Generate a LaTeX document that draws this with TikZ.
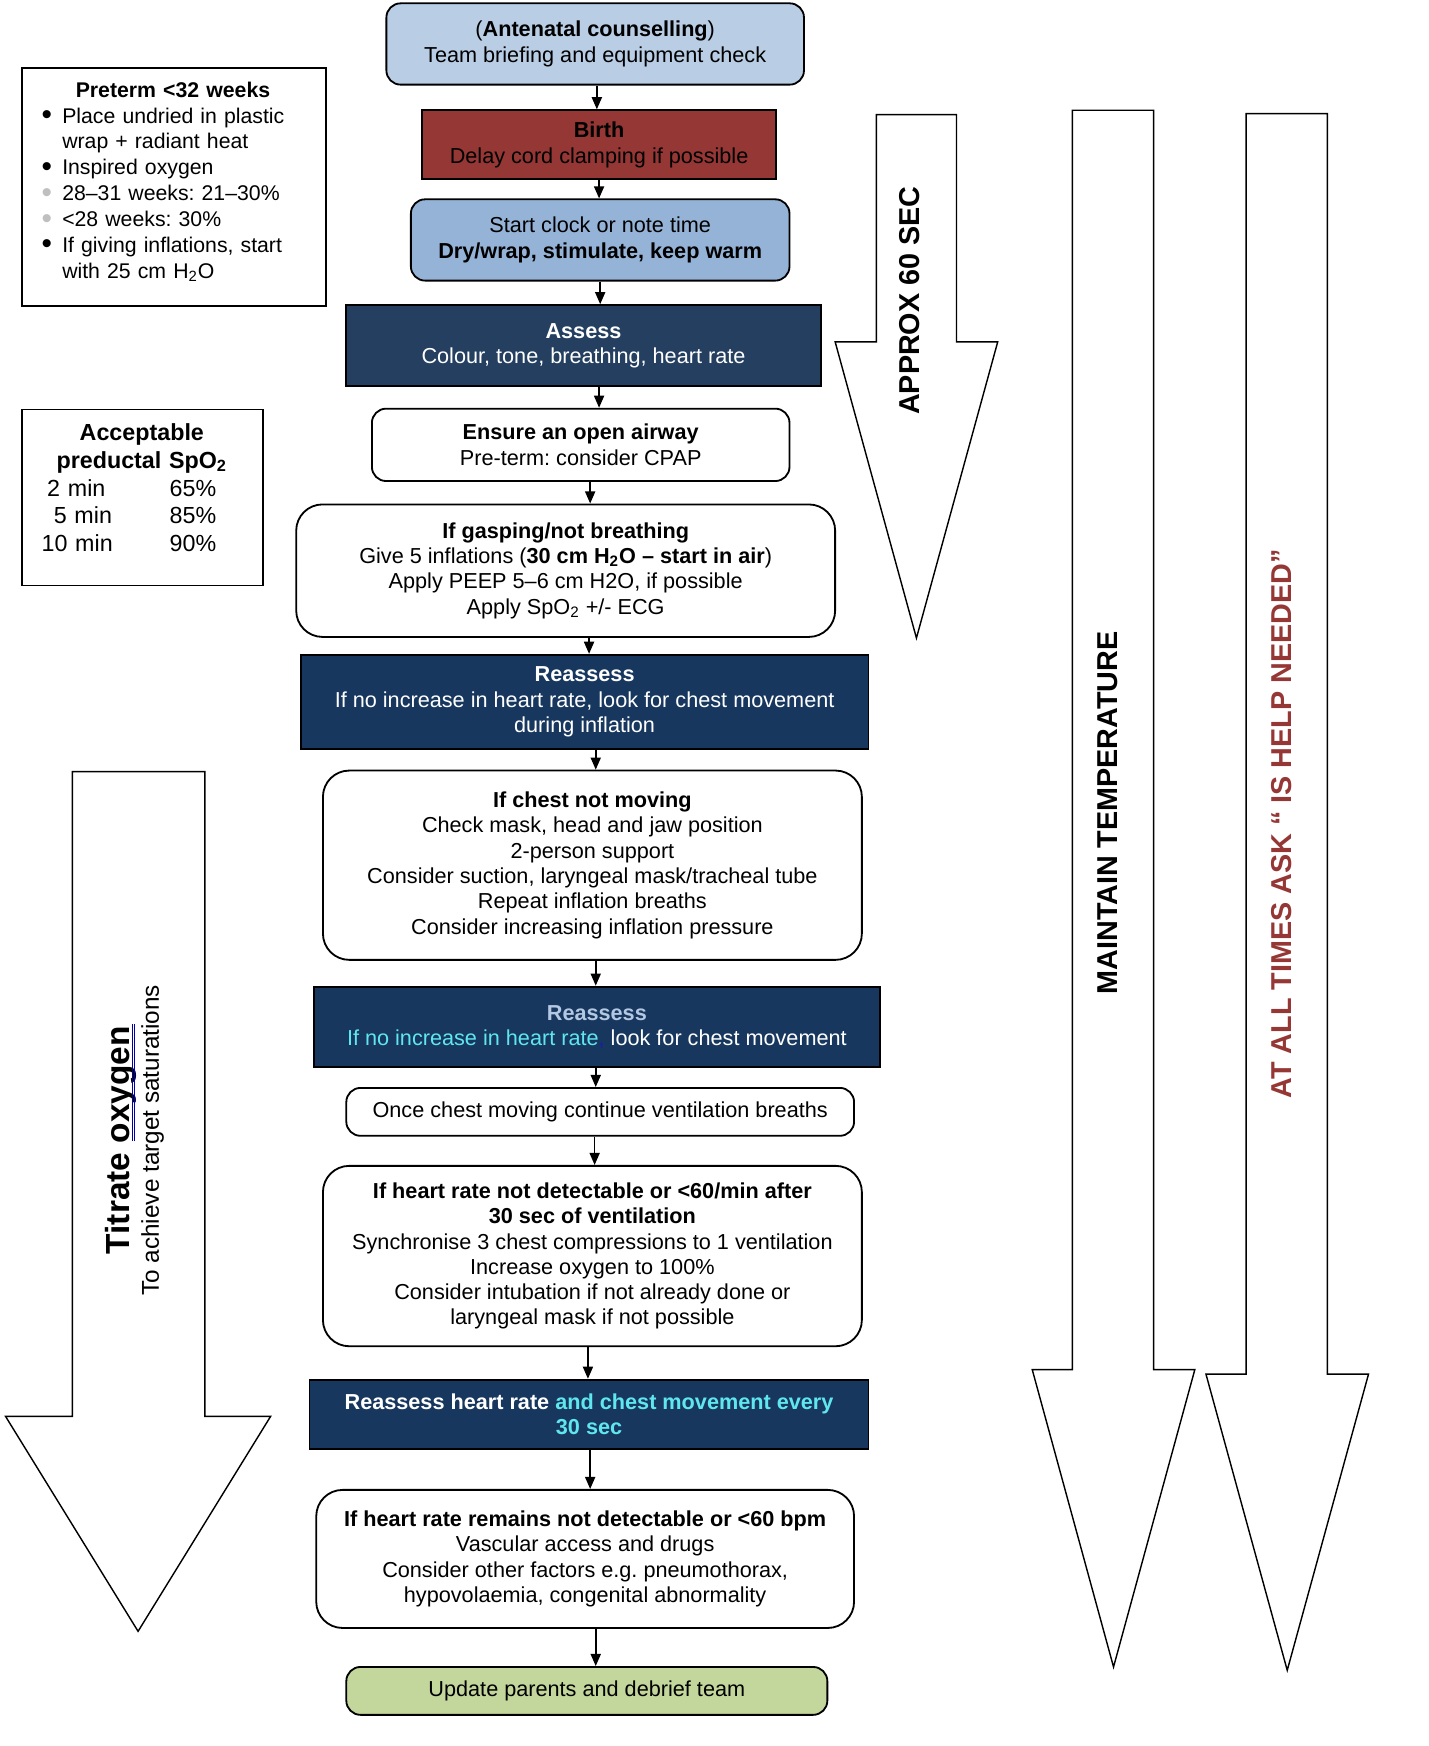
\documentclass[tikz,border=0pt]{standalone}
\usepackage{fontspec}
\setmainfont{Liberation Sans}
\usetikzlibrary{arrows.meta,calc}
\frenchspacing
\definecolor{nlsblue}{HTML}{B9CDE5}
\definecolor{nlsclock}{HTML}{95B3D7}
\definecolor{nlsred}{HTML}{953735}
\definecolor{nlsnavy}{HTML}{243F60}
\definecolor{nlsdeep}{HTML}{17375E}
\definecolor{nlscyan}{HTML}{5FE6EE}
\definecolor{nlspale}{HTML}{B4C8E2}
\definecolor{nlscomma}{HTML}{1A1AB0}
\definecolor{nlsgreen}{HTML}{C3D69B}
\newcommand{\bigdot}{\raisebox{-0.7pt}{\scalebox{1.4}{\textbullet}}}
\newcommand{\pbul}[1]{\makebox[10.2pt][l]{\bigdot}#1}
\newcommand{\gbul}[1]{\makebox[10.2pt][l]{\color{black!25}\bigdot}#1}
\newcommand{\sprow}[3]{\hspace*{#1}\makebox[\dimexpr63.25pt-#1\relax][l]{#2}#3}
\tikzset{
  flow/.style={draw=black,line width=0.9pt,align=center,inner sep=2pt,font=\fontsize{10.7}{12.5}\selectfont},
  rbox/.style={flow,rounded corners=7pt,fill=white},
  rbig/.style={flow,rounded corners=13pt,fill=white},
  navy/.style={flow,fill=nlsdeep,text=white},
  wh/.style 2 args={minimum width=#1*0.55pt,minimum height=#2*0.55pt},
  arr/.style={-{Triangle[length=6pt,width=5pt]},line width=0.8pt},
  bigarr/.style={draw=black,line width=0.7pt,fill=white},
  side/.style={draw=black,line width=0.9pt,fill=white},
  sidetxt/.style={inner sep=0pt,align=left},
  vlab/.style={rotate=90,font=\fontsize{14.2}{16}\selectfont\bfseries},
  spellmark/.style={draw=blue!65!black,line width=0.3pt},
}
\begin{document}
\begin{tikzpicture}[x=0.55pt,y=-0.55pt]
  \useasboundingbox (0,0) rectangle (1283,1568);
  % big side arrows
  \draw[bigarr] (787,103) -- (859,103) -- (859,307) -- (896,307) -- (823,573) -- (750,307) -- (787,307) -- cycle;
  \draw[bigarr] (963,99) -- (1036,99) -- (1036,1230) -- (1073,1230) -- (1000,1497) -- (927,1230) -- (963,1230) -- cycle;
  \draw[bigarr] (1119,102) -- (1192,102) -- (1192,1234) -- (1229,1234) -- (1156,1500) -- (1083,1234) -- (1119,1234) -- cycle;
  \draw[bigarr] (65,693) -- (184,693) -- (184,1272) -- (243,1272) -- (124,1465) -- (5,1272) -- (65,1272) -- cycle;
  \node[vlab] (approx) at (817,270) {APPROX 60 SEC};
  \node[vlab] (temp) at (995,730) {MAINTAIN TEMPERATURE};
  \node[vlab,text=nlsred] (help) at (1151,740) {AT ALL TIMES ASK “ IS HELP NEEDED”};
  \node[rotate=90,align=center,inner sep=0pt] (titrate) at (121,1024)
    {{\fontsize{16.5}{18}\selectfont\bfseries Titrate oxygen}\\[1.3pt]{\fontsize{12}{14}\selectfont To achieve target saturations}};
  \draw[spellmark] (118.8,920) -- (118.8,1025);
  \draw[spellmark] (120.8,920) -- (120.8,1025);

  % side boxes
  \node[side,wh={273}{214},anchor=north west] (preterm) at (19,60) {};
  \node[sidetxt,anchor=north west,text width=130pt,font=\fontsize{10.5}{12.8}\selectfont] (pretermtxt) at (37,73) {%
    \makebox[129.8pt]{\textbf{Preterm <32 weeks}}\\
    \pbul{Place undried in plastic}\\
    \hspace*{10.2pt}wrap + radiant heat\\
    \pbul{Inspired oxygen}\\
    \gbul{28–31 weeks: 21–30\%}\\
    \gbul{<28 weeks: 30\%}\\
    \pbul{If giving inflations, start}\\
    \hspace*{10.2pt}with 25 cm H\textsubscript{2}O};
  \node[side,wh={216}{158},anchor=north west] (spo) at (19,367) {};
  \node[sidetxt,anchor=north west,text width=100pt,font=\fontsize{11.5}{13.75}\selectfont] (spotxt) at (37,380) {%
    \makebox[99pt]{\textbf{Acceptable}}\\
    \makebox[99pt]{\textbf{preductal SpO\textsubscript{2}}}\\
    \sprow{2.75pt}{2 min}{65\%}\\
    \sprow{6pt}{5 min}{85\%}\\
    \sprow{0pt}{10 min}{90\%}};

  % main flow
  \node[rbox,wh={375}{73},fill=nlsblue] (ante) at (534.5,39.5) {(\textbf{Antenatal counselling})\\Team briefing and equipment check};
  \node[flow,wh={318}{62},fill=nlsred] (birth) at (538,130) {\textbf{Birth}\\Delay cord clamping if possible};
  \node[rbox,wh={340}{73},fill=nlsclock] (clock) at (539,215.5) {Start clock or note time\\\textbf{Dry/wrap, stimulate, keep warm}};
  \node[navy,wh={426}{73},fill=nlsnavy] (assess) at (524,310.5) {\textbf{Assess}\\Colour, tone, breathing, heart rate};
  \node[rbox,wh={375}{65}] (airway) at (521.5,399.5) {\textbf{Ensure an open airway}\\Pre-term: consider CPAP};
  \node[rbig,wh={484}{119}] (gasp) at (508,512.5) {\textbf{If gasping/not breathing}\\Give 5 inflations (\textbf{30 cm H\textsubscript{2}O – start in air})\\Apply PEEP 5–6 cm H2O, if possible\\Apply SpO\textsubscript{2} +/- ECG};
  \node[navy,wh={510}{85}] (reass) at (525,630.5) {\textbf{Reassess}\\If no increase in heart rate, look for chest movement\\during inflation};
  \node[rbig,wh={484}{170}] (chest) at (532,777) {\textbf{If chest not moving}\\Check mask, head and jaw position\\2-person support\\Consider suction, laryngeal mask/tracheal tube\\Repeat inflation breaths\\Consider increasing inflation pressure};
  \node[navy,wh={508}{72}] (reassb) at (536,922) {\textcolor{nlspale}{\textbf{Reassess}}\\\textcolor{nlscyan}{If no increase in heart rate}\textcolor{nlscomma}{,} look for chest movement};
  \node[rbox,wh={456}{43}] (once) at (539,998.5) {Once chest moving continue ventilation breaths};
  \node[rbig,wh={484}{162}] (hr) at (532,1128) {\textbf{If heart rate not detectable or <60/min after}\\\textbf{30 sec of ventilation}\\Synchronise 3 chest compressions to 1 ventilation\\Increase oxygen to 100\%\\Consider intubation if not already done or\\laryngeal mask if not possible};
  \node[navy,wh={502}{62},font=\fontsize{10.7}{12.5}\selectfont\bfseries] (reassc) at (529,1270) {Reassess heart rate \textcolor{nlscyan}{and chest movement every}\\\textcolor{nlscyan}{30 sec}};
  \node[rbig,wh={483}{124}] (remain) at (525.5,1400) {\textbf{If heart rate remains not detectable or <60 bpm}\\Vascular access and drugs\\Consider other factors e.g. pneumothorax,\\hypovolaemia, congenital abnormality};
  \node[rbox,wh={432}{43},fill=nlsgreen] (update) at (527,1518.5) {Update parents and debrief team};

  \foreach \a/\b/\dx in {ante/birth/1.5, birth/clock/0, clock/assess/0, assess/airway/14,
      airway/gasp/8.5, gasp/reass/21, reass/chest/10, chest/reassb/3, reassb/once/-1,
      once/hr/-5, hr/reassc/-4, reassc/remain/1, remain/update/9.5} {
    \coordinate (t\a) at ($(\a.south)+(\dx,0)$);
    \draw[arr] (t\a) -- (t\a |- \b.north);
  }
\end{tikzpicture}
\end{document}
